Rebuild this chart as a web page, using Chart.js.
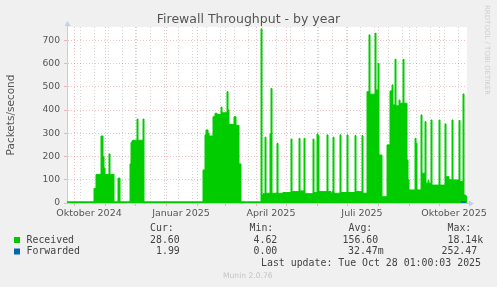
<!DOCTYPE html>
<html>
<head>
<meta charset="utf-8">
<script src="https://cdn.jsdelivr.net/npm/chart.js@4.4.1/dist/chart.umd.min.js"></script>
<style>
html, body { margin: 0; padding: 0; background: #f0f0f0; }
canvas { display: block; }
</style>
</head>
<body>
<canvas id="chart" width="497" height="287"></canvas>
<script>
// days counted from 24 Sep 2024 (left edge of the graph), 400 days shown
// [day, packets/s] - value holds until the next point (rrd steps)
const received = [
  [0, 5], [27, 63], [29, 123], [34, 288], [36, 199], [37, 150], [38, 123], [42, 211], [43, 123], [47, 5],
  [51, 107], [53, 5],
  [63, 168], [64, 260], [65, 268], [66, 270], [70, 361], [71, 270], [76, 361], [77, 5],
  [136, 142], [138, 293], [139, 314], [141, 300], [142, 288], [146, 371], [148, 386], [150, 381],
  [154, 412], [155, 388], [160, 479], [161, 400], [162, 338], [167, 371], [169, 334], [172, 168], [174, 5],
  [194, 749], [195, 34], [196, 40], [198, 283], [199, 42], [203, 297], [204, 493], [205, 42],
  [210, 257], [211, 42], [216, 45], [224, 275], [225, 49], [232, 278], [233, 52], [237, 278], [238, 40],
  [246, 275], [247, 45], [250, 297], [251, 290], [252, 49], [260, 293], [261, 49], [264, 40], [265, 49],
  [266, 283], [267, 42], [273, 293], [274, 45], [280, 293], [281, 45], [288, 290], [289, 49],
  [295, 290], [296, 42],
  [300, 479], [302, 723], [303, 468], [308, 730], [309, 486], [311, 601], [312, 206], [315, 27],
  [320, 250], [323, 482], [325, 508], [326, 422], [328, 618], [329, 418], [332, 443], [333, 429],
  [336, 618], [337, 429], [340, 185], [341, 100], [342, 56], [348, 278], [349, 257], [350, 56],
  [354, 379], [355, 128], [358, 350], [359, 85], [361, 97], [362, 85], [364, 357], [365, 77],
  [372, 357], [373, 77], [378, 340], [379, 113], [382, 100], [385, 357], [386, 99],
  [392, 355], [393, 93], [396, 469], [397, 34], [399, 28.6], [400, 28.6]
];
const forwarded = [[394, 4], [397, 2], [398, 1.99]];

// grid: month starts (red) and every second monday (grey)
const monthDays = [7, 38, 68, 99, 130, 158, 189, 219, 250, 280, 311, 342, 372];
const biweekDays = [13, 27, 41, 55, 69, 83, 97, 111, 125, 139, 153, 167, 181, 195, 209, 223, 237, 251,
  265, 279, 293, 307, 321, 335, 349, 363, 377, 391];
const xLabelDays = [7, 99, 189, 280, 372];
const xLabels = ['Oktober 2024', 'Januar 2025', 'April 2025', 'Juli 2025', 'Oktober 2025'];
const yGrid = [0, 50, 100, 150, 200, 250, 300, 350, 400, 450, 500, 550, 600, 650, 700, 750];

// legend table
const legendRows = [
  { name: 'Received', color: '#00cc00', cur: '28.60', min: '4.62', avg: '156.60', max: '18.14k' },
  { name: 'Forwarded', color: '#0066b3', cur: '1.99', min: '0.00', avg: '32.47m', max: '252.47' }
];

const RED = 'rgba(220,90,90,0.38)';
const GREY = 'rgba(140,140,140,0.35)';
const AXIS = '#c6cdf5';

let gridDays = monthDays.concat(biweekDays).sort((a, b) => a - b);

const munin = {
  id: 'munin',
  beforeDraw(chart) {
    const c = chart.ctx, a = chart.chartArea;
    c.save();
    c.fillStyle = '#f0f0f0';
    c.fillRect(0, 0, chart.width, chart.height);
    c.fillStyle = '#ffffff';
    c.fillRect(a.left, a.top, a.right - a.left, a.bottom - a.top);
    c.restore();
  },
  afterDraw(chart) {
    const c = chart.ctx, a = chart.chartArea;
    c.save();
    // axis arrows
    c.strokeStyle = AXIS;
    c.fillStyle = AXIS;
    c.lineWidth = 1;
    c.beginPath();
    c.moveTo(a.left + 0.5, a.top);
    c.lineTo(a.left + 0.5, 24);
    c.moveTo(a.right, a.bottom + 0.5);
    c.lineTo(470, a.bottom + 0.5);
    c.stroke();
    c.beginPath();
    c.moveTo(a.left + 0.5, 21);
    c.lineTo(a.left - 2.5, 26);
    c.lineTo(a.left + 3.5, 26);
    c.fill();
    c.beginPath();
    c.moveTo(474, a.bottom + 0.5);
    c.lineTo(469, a.bottom - 2.5);
    c.lineTo(469, a.bottom + 3.5);
    c.fill();

    // title
    c.fillStyle = '#555';
    c.font = '12.5px "DejaVu Sans"';
    c.textAlign = 'center';
    c.textBaseline = 'alphabetic';
    c.fillText('Firewall Throughput - by year', 248.5, 23);

    // y axis title
    c.save();
    c.translate(11, 115);
    c.rotate(-Math.PI / 2);
    c.font = '10.5px "DejaVu Sans"';
    c.textBaseline = 'middle';
    c.fillText('Packets/second', 0, 0);
    c.restore();

    // watermark
    c.save();
    c.translate(487, 5);
    c.rotate(Math.PI / 2);
    c.font = '7px "DejaVu Sans"';
    c.fillStyle = '#cfcfcf';
    c.textAlign = 'left';
    c.textBaseline = 'middle';
    c.fillText('RRDTOOL / TOBI OETIKER', 0, 0);
    c.restore();

    // legend
    c.font = '9.9px "DejaVu Sans Mono"';
    c.textAlign = 'left';
    c.textBaseline = 'middle';
    c.fillStyle = '#444';
    c.fillText('Cur:', 150, 228.5);
    c.fillText('Min:', 249.5, 228.5);
    c.fillText('Avg:', 348.5, 228.5);
    c.fillText('Max:', 447.5, 228.5);
    const rowY = [240, 251.5];
    const xs = [[150, 253.5, 342.5, 447.5], [156, 253.5, 348, 441.5]];
    legendRows.forEach((r, i) => {
      c.fillStyle = r.color;
      c.fillRect(14, rowY[i] - 3, 6, 6);
      c.fillStyle = '#444';
      c.fillText(r.name, 26.5, rowY[i]);
      c.fillText(r.cur, xs[i][0], rowY[i]);
      c.fillText(r.min, xs[i][1], rowY[i]);
      c.fillText(r.avg, xs[i][2], rowY[i]);
      c.fillText(r.max, xs[i][3], rowY[i]);
    });
    c.fillText('Last update: Tue Oct 28 01:00:03 2025', 261, 263.5);

    c.font = '7.6px "DejaVu Sans"';
    c.fillStyle = '#c4c4c4';
    c.fillText('Munin 2.0.76', 223, 276);
    c.restore();
  }
};

new Chart(document.getElementById('chart'), {
  type: 'line',
  data: {
    datasets: [
      {
        label: 'Forwarded',
        data: forwarded.map(p => ({ x: p[0], y: p[1] })),
        stepped: true,
        fill: false,
        borderColor: '#0066b3',
        borderWidth: 2,
        pointRadius: 0
      },
      {
        label: 'Received',
        data: received.map(p => ({ x: p[0], y: p[1] })),
        stepped: true,
        fill: 'origin',
        backgroundColor: '#00cc00',
        borderColor: '#00cc00',
        borderWidth: 1,
        pointRadius: 0
      }
    ]
  },
  options: {
    responsive: false,
    animation: false,
    devicePixelRatio: 1,
    layout: { padding: { top: 27, right: 30, bottom: 0, left: 0 } },
    plugins: { legend: { display: false }, tooltip: { enabled: false } },
    scales: {
      x: {
        type: 'linear',
        min: 0,
        max: 400,
        afterBuildTicks: s => { s.ticks = gridDays.map(v => ({ value: v })); },
        afterFit: s => { s.height = 84; },
        ticks: {
          autoSkip: false,
          maxRotation: 0,
          minRotation: 0,
          labelOffset: 15,
          padding: 2,
          color: '#555',
          font: { family: 'DejaVu Sans', size: 9.5 },
          callback: v => {
            const i = xLabelDays.indexOf(v);
            return i >= 0 ? xLabels[i] : '';
          }
        },
        grid: {
          color: c => monthDays.includes(c.tick.value) ? RED : GREY,
          tickColor: c => monthDays.includes(c.tick.value) ? RED : 'rgba(0,0,0,0)',
          tickLength: 3
        },
        border: { color: AXIS, dash: [1, 2] }
      },
      y: {
        min: 0,
        max: 757,
        afterBuildTicks: s => { s.ticks = yGrid.map(v => ({ value: v })); },
        afterFit: s => { s.width = 67; },
        ticks: {
          padding: 4,
          color: '#555',
          font: { family: 'DejaVu Sans', size: 9.2 },
          callback: v => (v % 100 === 0 ? String(v) : '')
        },
        grid: {
          color: c => (c.tick.value % 100 === 0 ? RED : GREY),
          tickColor: c => (c.tick.value % 100 === 0 ? RED : 'rgba(0,0,0,0)'),
          tickLength: 3
        },
        border: { color: AXIS, dash: [1, 2] }
      }
    }
  },
  plugins: [munin]
});
</script>
</body>
</html>
